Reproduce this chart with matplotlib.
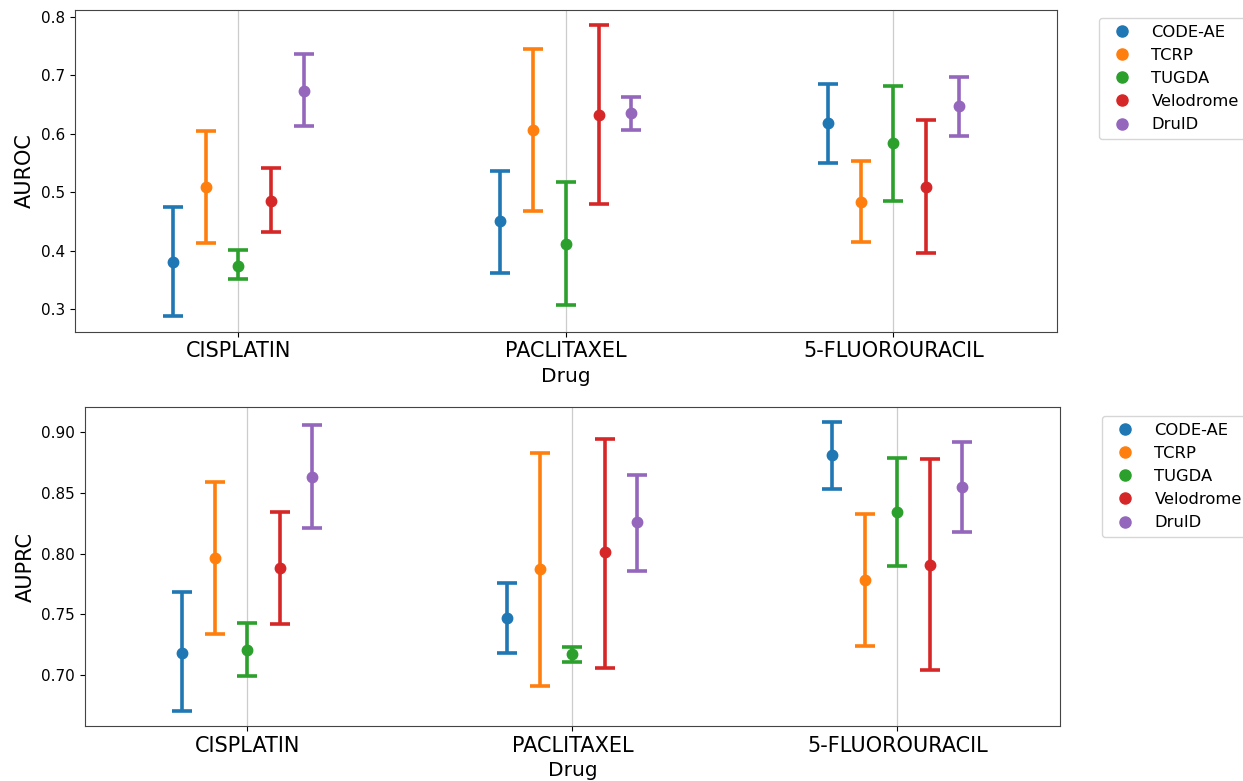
import numpy as np
import matplotlib
matplotlib.use("Agg")
import matplotlib.pyplot as plt

drugs = ["CISPLATIN", "PACLITAXEL", "5-FLUOROURACIL"]
methods = ["CODE-AE", "TCRP", "TUGDA", "Velodrome", "DruID"]
colors = ["#1f77b4", "#ff7f0e", "#2ca02c", "#d62728", "#9467bd"]

# AUROC: mean, lower, upper per method (order of drugs)
auroc_mean = [[0.380, 0.450, 0.619],
              [0.509, 0.607, 0.484],
              [0.374, 0.411, 0.584],
              [0.485, 0.633, 0.509],
              [0.673, 0.635, 0.647]]
auroc_low = [[0.288, 0.362, 0.550],
             [0.413, 0.467, 0.415],
             [0.351, 0.306, 0.485],
             [0.431, 0.480, 0.396],
             [0.613, 0.607, 0.597]]
auroc_high = [[0.475, 0.536, 0.685],
              [0.605, 0.746, 0.554],
              [0.401, 0.517, 0.681],
              [0.542, 0.787, 0.623],
              [0.737, 0.663, 0.698]]

# AUPRC
auprc_mean = [[0.718, 0.747, 0.881],
              [0.796, 0.787, 0.778],
              [0.721, 0.717, 0.834],
              [0.788, 0.801, 0.791],
              [0.863, 0.826, 0.855]]
auprc_low = [[0.670, 0.718, 0.853],
             [0.734, 0.691, 0.724],
             [0.699, 0.711, 0.790],
             [0.742, 0.706, 0.704],
             [0.821, 0.786, 0.818]]
auprc_high = [[0.768, 0.776, 0.908],
              [0.859, 0.883, 0.833],
              [0.743, 0.723, 0.879],
              [0.834, 0.894, 0.878],
              [0.906, 0.865, 0.892]]


def deseneaza(ax, mean, low, high, ylabel, ylim, yticks, yfmt):
    x = np.arange(len(drugs))
    for i, m in enumerate(methods):
        mu = np.array(mean[i])
        err = np.vstack([mu - np.array(low[i]), np.array(high[i]) - mu])
        ax.errorbar(x + (i - 2) * 0.1, mu, yerr=err, fmt="o", color=colors[i],
                    ms=7.5, elinewidth=2.6, capsize=7, capthick=2.6, zorder=3)
    ax.set_xlim(-0.5, 2.5)
    ax.set_ylim(*ylim)
    ax.set_xticks(x)
    ax.set_xticklabels(drugs, fontsize=15)
    ax.set_yticks(yticks)
    ax.set_yticklabels([yfmt.format(t) for t in yticks], fontsize=11)
    ax.set_xlabel("Drug", fontsize=14.5, labelpad=4)
    ax.set_ylabel(ylabel, fontsize=15)
    ax.grid(axis="x", color="#cccccc", linewidth=0.9)
    ax.set_axisbelow(True)
    for s in ax.spines.values():
        s.set_color("#444444")


fig = plt.figure(figsize=(12.43, 7.81), dpi=100)
ax1 = fig.add_axes([0.0601, 0.5753, 0.7903, 0.4115])
ax2 = fig.add_axes([0.0681, 0.0704, 0.7847, 0.4081])

deseneaza(ax1, auroc_mean, auroc_low, auroc_high, "AUROC", (0.261, 0.8115),
          [0.3, 0.4, 0.5, 0.6, 0.7, 0.8], "{:.1f}")
deseneaza(ax2, auprc_mean, auprc_low, auprc_high, "AUPRC", (0.658, 0.9205),
          [0.70, 0.75, 0.80, 0.85, 0.90], "{:.2f}")

# legenda doar cu markere
handles = [plt.Line2D([], [], marker="o", linestyle="", color=c, ms=8) for c in colors]
for ax, (lx, ly) in [(ax1, (1099, 18)), (ax2, (1102, 416))]:
    ax.legend(handles, methods, loc="upper left", fontsize=11.8,
              bbox_to_anchor=(lx / 1243, 1 - ly / 781), bbox_transform=fig.transFigure,
              borderaxespad=0, handletextpad=0.8)

fig.savefig("out.png", dpi=100)
